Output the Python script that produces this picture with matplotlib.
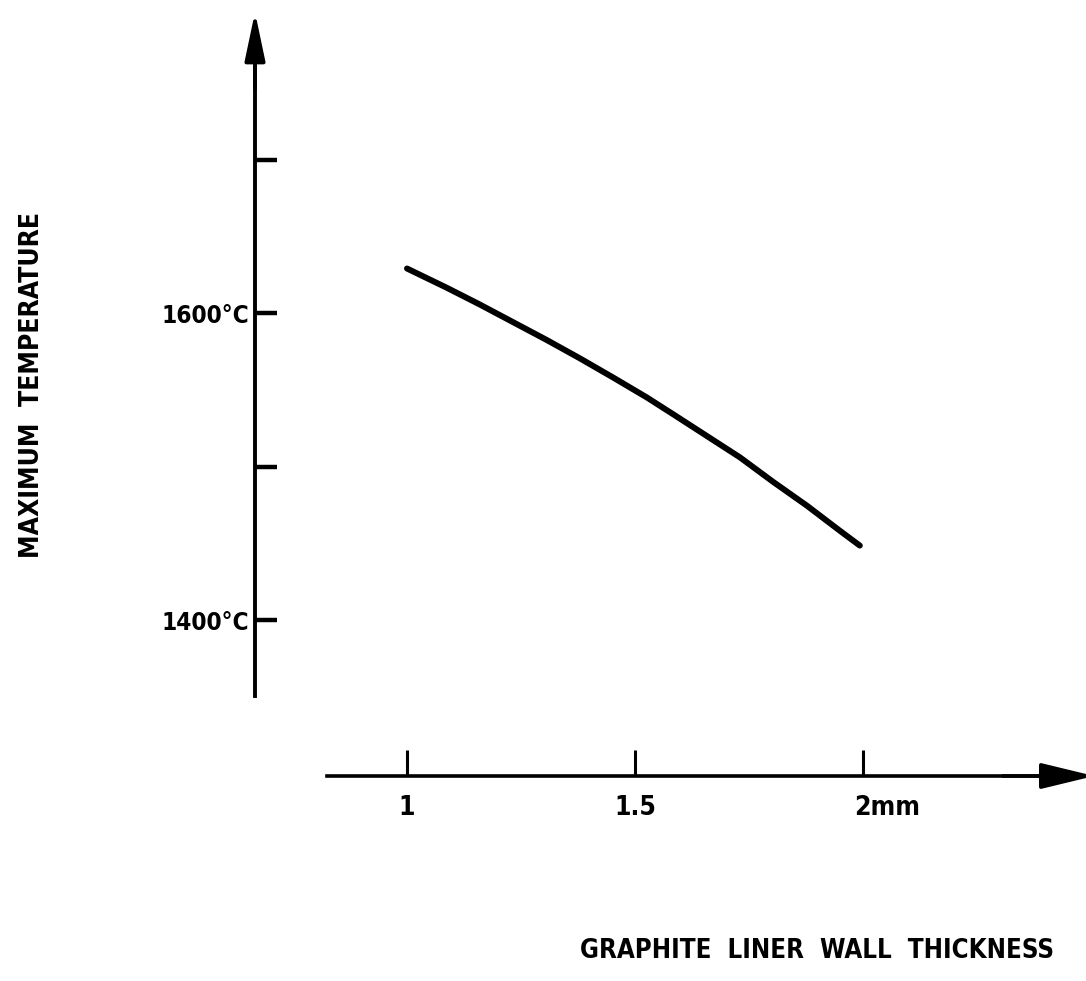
import matplotlib
matplotlib.use("Agg")
import matplotlib.pyplot as plt
import matplotlib.transforms as mtransforms

# ---- data ----
thickness_mm = [1.0, 1.087, 1.16, 1.233, 1.306, 1.379, 1.452, 1.526,
                1.584, 1.657, 1.73, 1.803, 1.877, 1.95, 1.993]
max_temp_c = [1629, 1616.5, 1605.5, 1594, 1582.5, 1570.5, 1558, 1545,
              1534, 1520, 1506, 1490, 1474.5, 1458, 1448.5]

x_ticks = [1.0, 1.5, 2.0]
x_tick_labels = ["1", "1.5", "2mm"]
y_ticks = [1400, 1500, 1600, 1700]
y_tick_labels = ["1400°C", "", "1600°C", ""]

x_title = "GRAPHITE  LINER  WALL  THICKNESS"
y_title = "MAXIMUM  TEMPERATURE"

# ---- figure ----
W, H, DPI = 1086, 981, 100
fig = plt.figure(figsize=(W / DPI, H / DPI), dpi=DPI)
fig.patch.set_facecolor("white")

# axes box in pixels (y axis at x=255, x axis at y=776)
left_px, right_px, top_px, bot_px = 255, 1086, 12, 776
ax = fig.add_axes([left_px / W, 1 - bot_px / H,
                   (right_px - left_px) / W, (bot_px - top_px) / H])

ax.set_xlim(0.6667, 2.489)
ax.set_ylim(1298.4, 1796.1)

font = dict(family="DejaVu Sans", weight="bold", stretch="condensed")

ax.plot(thickness_mm, max_temp_c, color="black", lw=4.3,
        solid_capstyle="round", solid_joinstyle="round")

for s in ["top", "right"]:
    ax.spines[s].set_visible(False)
ax.spines["left"].set_linewidth(2.8)
ax.spines["bottom"].set_linewidth(2.6)
ax.spines["left"].set_bounds(1350.5, 1770)
ax.spines["bottom"].set_bounds(0.825, 2.44)

# arrow heads
ax.annotate("", xy=(0, 1.0), xytext=(0, 0.90), xycoords="axes fraction",
            arrowprops=dict(arrowstyle="-|>,head_length=29.5,head_width=6.2",
                            mutation_scale=1, color="black", lw=2.8,
                            shrinkA=0, shrinkB=0), annotation_clip=False)
ax.annotate("", xy=(1.01, 0), xytext=(0.90, 0), xycoords="axes fraction",
            arrowprops=dict(arrowstyle="-|>,head_length=33,head_width=8",
                            mutation_scale=1, color="black", lw=2.6,
                            shrinkA=0, shrinkB=0), annotation_clip=False)

ax.set_xticks(x_ticks)
ax.set_xticklabels(x_tick_labels, fontsize=19, **font)
ax.set_yticks(y_ticks)
ax.set_yticklabels(y_tick_labels, fontsize=17.5, **font)

ax.tick_params(axis="x", direction="in", length=19, width=2.2, pad=14,
               colors="black")
ax.tick_params(axis="y", direction="in", length=16, width=3.2, pad=4,
               colors="black")

# "2mm" label starts just left of its tick
lbl = ax.get_xticklabels()[-1]
lbl.set_horizontalalignment("left")
lbl.set_transform(lbl.get_transform() +
                  mtransforms.ScaledTranslation(-9 / DPI, 0, fig.dpi_scale_trans))

ax.set_xlabel(x_title, fontsize=18.5, **font)
ax.xaxis.set_label_coords(0.676, -0.229)
ax.xaxis.label.set_va("center")

ax.set_ylabel(y_title, fontsize=19, **font)
ax.yaxis.set_label_coords(-0.268, 0.512)
ax.yaxis.label.set_va("center")

fig.savefig("out.png", dpi=DPI, facecolor="white")
